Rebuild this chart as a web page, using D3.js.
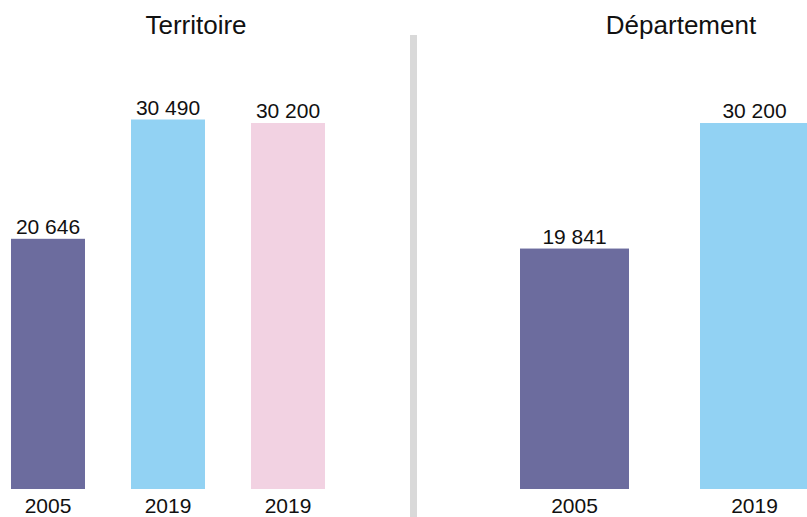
<!DOCTYPE html>
<html>
<head>
<meta charset="utf-8">
<script src="https://cdn.jsdelivr.net/npm/d3@7"></script>
<style>
  html, body { margin: 0; padding: 0; background: #fff; }
  svg { display: block; font-family: "Liberation Sans", Arial, sans-serif; }
</style>
</head>
<body>
<svg id="chart" width="807" height="517"></svg>
<script>
// Data
const panelTitles = ["Territoire", "Département"];
const territoireYears = ["2005", "2019", "2019"];
const territoireValues = [20646, 30490, 30200];
const departementYears = ["2005", "2019"];
const departementValues = [19841, 30200];
const territoireColors = ["#6c6c9e", "#92d2f3", "#f2d2e2"];
const departementColors = ["#6c6c9e", "#92d2f3"];

const svg = d3.select("#chart");
const fmt = v => d3.format(",")(v).replace(/,/g, " ");

const y = d3.scaleLinear().domain([0, 30490]).range([489, 119.5]);

function panel(years, values, colors, range, pInner, titleX, title) {
  const idx = years.map((d, i) => i);
  const x = d3.scaleBand().domain(idx).range(range)
    .paddingInner(pInner).paddingOuter(pInner / 2);
  const g = svg.append("g");
  g.selectAll("rect").data(idx).join("rect")
    .attr("x", i => x(i))
    .attr("width", x.bandwidth())
    .attr("y", i => y(values[i]))
    .attr("height", i => y(0) - y(values[i]))
    .attr("fill", i => colors[i]);
  g.selectAll("text.val").data(idx).join("text")
    .attr("class", "val")
    .attr("x", i => x(i) + x.bandwidth() / 2)
    .attr("y", i => y(values[i]) - 5)
    .attr("text-anchor", "middle")
    .attr("font-size", 21)
    .attr("fill", "#111")
    .text(i => fmt(values[i]));
  const axis = d3.axisBottom(x).tickSize(0).tickPadding(9).tickFormat(i => years[i]);
  const ax = g.append("g").attr("transform", `translate(0,${y(0)})`).call(axis);
  ax.select(".domain").remove();
  ax.selectAll("text").attr("font-size", 21).attr("fill", "#111")
    .attr("font-family", "Liberation Sans, Arial, sans-serif");
  g.append("text")
    .attr("x", titleX).attr("y", 34)
    .attr("text-anchor", "middle")
    .attr("font-size", 26)
    .attr("fill", "#111")
    .text(title);
}

panel(territoireYears, territoireValues, territoireColors, [-12, 348], 46 / 120, 196, panelTitles[0]);
panel(departementYears, departementValues, departementColors, [484.5, 844.5], 71 / 180, 681, panelTitles[1]);

// Divider
svg.append("rect").attr("x", 410).attr("y", 35).attr("width", 7).attr("height", 482).attr("fill", "#d9d9d9");
</script>
</body>
</html>
